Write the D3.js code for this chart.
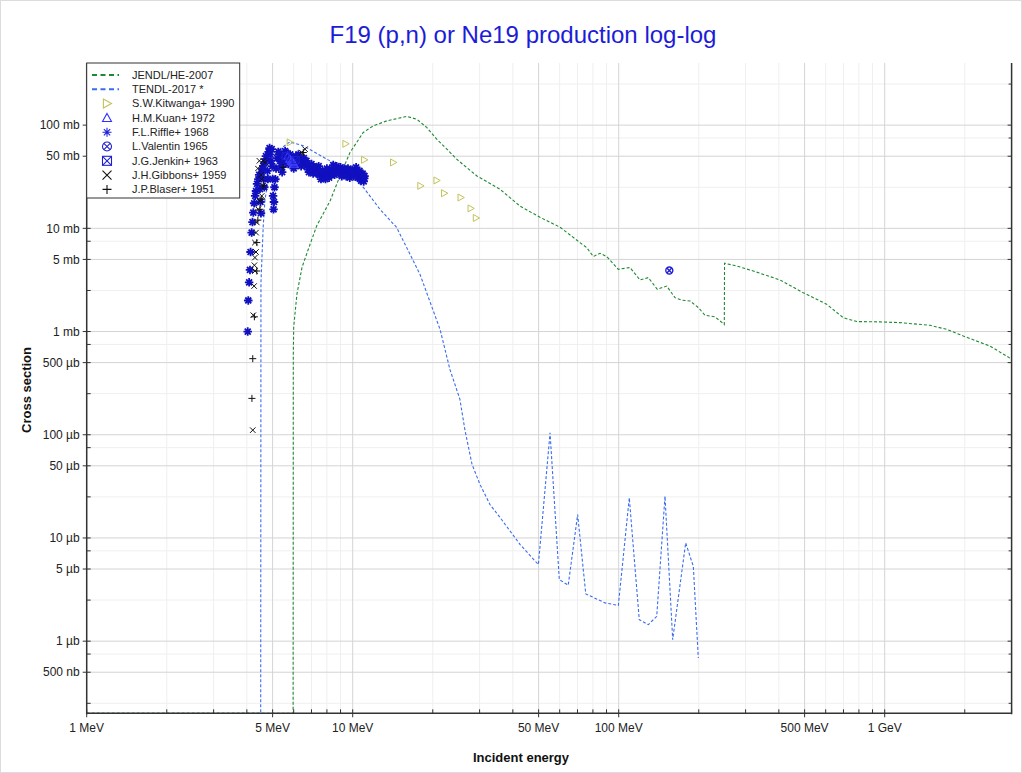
<!DOCTYPE html>
<html><head><meta charset="utf-8">
<script src="https://cdn.jsdelivr.net/npm/d3@7/dist/d3.min.js"></script>
<style>body{margin:0;background:#fff}svg{display:block;font-family:"Liberation Sans",Arial,sans-serif}</style>
</head><body><svg id="c" width="1022" height="773"></svg>
<script>
// ---------------- data (E in MeV, cross section in mb) ----------------
const jendlE = [1, 5.97, 5.98, 6.0, 6.17, 6.45, 6.81, 7.32, 8.22, 8.96, 9.77, 10.96, 11.95, 13.42, 15.96, 17.4, 18.98, 20.7, 22.6, 24.6, 26.8, 29.3, 35.8, 42.6, 50.6, 60.2, 71.5, 75.8, 80.3, 85.1, 90.1, 99.7, 110.3, 120.3, 129.2, 139.7, 151.5, 162.8, 172.5, 185.4, 199.2, 211, 230, 249.5, 250, 277.7, 320.6, 404, 494, 605, 699, 785, 960, 1141, 1480, 1711, 1975, 2488, 3000];
const jendlS = [0, 0, 0.6, 1.1, 2.3, 4.2, 6.27, 10.55, 18.4, 32.2, 54.3, 85, 98.4, 110, 121.4, 114.3, 95, 73.1, 58.5, 46.8, 38.9, 32.2, 23.9, 16.4, 12.8, 10.25, 7.28, 6.51, 5.33, 5.73, 5.33, 4.01, 4.17, 3.16, 3.33, 2.57, 2.76, 2.13, 2.01, 1.98, 1.71, 1.44, 1.39, 1.17, 4.59, 4.32, 3.86, 3.16, 2.38, 1.84, 1.36, 1.25, 1.24, 1.22, 1.15, 1.05, 0.905, 0.724, 0.54];

const tendlE = [1, 4.51, 4.52, 4.61, 4.68, 4.89, 5.3, 5.81, 6.52, 8.22, 9.77, 10.96, 12.66, 14.63, 17.9, 21.3, 23.2, 25.3, 26.4, 28.1, 30.1, 32.8, 35.8, 42.6, 49.9, 55.2, 59.8, 64.6, 70.1, 75.2, 88.8, 99.7, 109.6, 119.5, 129.2, 139, 149.3, 159.6, 178.6, 190.8, 199.2];
const tendlS = [0, 0, 3.0, 10.55, 19.1, 37.4, 58, 68.9, 63, 45, 33.5, 25, 15.3, 10.2, 3.59, 1.05, 0.43, 0.22, 0.1125, 0.0515, 0.033, 0.0211, 0.0158, 0.00863, 0.00552, 0.1046, 0.00395, 0.00348, 0.01687, 0.00287, 0.00235, 0.00222, 0.0245, 0.001616, 0.001445, 0.00174, 0.0254, 0.001034, 0.00896, 0.00531, 0.000687];

const kitwangaE = [5.81, 9.41, 11.06, 14.21, 18.0, 20.7, 22.1, 25.5, 27.8, 29.1];
const kitwangaS = [68.0, 65.9, 46.1, 43.5, 25.8, 29.1, 21.9, 19.9, 15.6, 12.6];

const kuanE = [5.70, 5.80, 5.88, 5.95, 6.02];
const kuanS = [50, 47, 45, 44, 42];

const riffleE = [4.03, 4.05, 4.08, 4.11, 4.13, 4.17, 4.20, 4.23, 4.26, 4.30, 4.33, 4.37, 4.42, 4.45, 4.48, 4.50, 4.52, 4.55, 4.58, 4.61, 4.63, 4.65, 4.68, 4.72, 4.75, 4.78, 4.80, 4.83, 4.87, 4.90, 4.93, 4.96, 4.98, 5.00, 5.02, 5.04, 5.06, 5.08, 5.12, 5.15, 5.20, 5.25, 5.30, 5.33, 5.38, 5.43, 5.48, 5.52, 5.57, 5.62, 5.67, 5.72, 5.77, 5.82, 5.87, 5.93, 5.98, 6.05, 6.12, 6.20, 6.28, 6.34, 6.42, 6.50, 6.58, 6.65, 6.72, 6.80, 6.88, 6.96, 7.05, 7.15, 7.25, 7.32, 7.42, 7.52, 7.62, 7.75, 7.85, 7.95, 8.08, 8.22, 8.35, 8.48, 8.60, 8.75, 8.90, 9.05, 9.20, 9.35, 9.50, 9.65, 9.77, 9.90, 10.05, 10.2, 10.35, 10.5, 10.65, 10.8, 10.96, 11.05,
  6.0, 6.1, 6.25, 6.4, 6.55, 6.7, 6.85, 7.0, 7.1, 7.3, 7.45, 7.6, 7.7, 7.9, 8.0, 8.15, 8.3, 8.45, 8.55, 8.7, 8.85, 9.0, 9.1, 9.3, 9.45, 9.6, 9.75, 9.95, 10.1, 10.3, 10.45, 10.6, 10.75, 10.9, 11.0, 11.08];
const riffleS = [1.0, 2.0, 3.0, 3.95, 5.9, 9.1, 11.5, 14.2, 17.5, 20.6, 23, 27, 29.9, 33, 24, 18, 14, 34.8, 38, 40.3, 30, 25, 44, 50, 46.8, 36, 30, 55, 60, 52, 45, 58.5, 40, 30, 20.6, 15.3, 18, 25, 29.9, 38, 48, 55, 52.3, 45, 40, 35, 43.4, 50, 56, 54.3, 48, 42, 46, 52, 48, 44, 43.4, 46, 50, 47, 43, 45.1, 48, 44, 41, 43, 40.3, 37, 40, 38, 36, 39, 38, 38.9, 35, 33, 34, 32.2, 33, 35, 34, 34.8, 37, 38, 36, 37.5, 37.5, 35, 34, 35.5, 36, 35, 34.8, 33.5, 35, 36, 36, 34, 33, 32, 31.1, 30.5,
  38, 42, 52, 40, 48, 45, 35, 42, 34, 34, 40, 30, 36, 30, 38, 31, 33, 41, 33, 40, 34, 39, 32, 38, 32, 38, 31, 37, 32, 39, 31, 36, 29, 34, 28.5, 32];

const valentinE = [155];
const valentinS = [3.9];

const jenkinE = [5.6, 6.1];
const jenkinS = [50, 46];

const gibbonsE = [4.21, 4.23, 4.26, 4.27, 4.29, 4.29, 4.33, 4.29, 4.33, 4.36, 4.42, 4.48, 4.55, 4.61, 4.55, 4.46, 4.61, 4.68, 6.43, 6.62, 4.40, 4.52];
const gibbonsS = [0.1108, 1.44, 2.76, 4.39, 3.86, 5.21, 5.9, 7.28, 9.1, 11.4, 15.3, 18.4, 20.6, 25.8, 29.9, 45.1, 45.1, 43.4, 54.3, 58.5, 38, 33];

const blaserE = [4.18, 4.21, 4.27, 4.36, 4.36, 4.48, 4.55, 4.61, 5.48, 6.52, 4.40];
const blaserS = [0.225, 0.546, 1.39, 3.86, 7.28, 15.3, 19.2, 25.8, 38.9, 54.3, 12];

const xMajor = [1, 5, 10, 50, 100, 500, 1000];
const xMajorLabels = ["1 MeV", "5 MeV", "10 MeV", "50 MeV", "100 MeV", "500 MeV", "1 GeV"];
const xMinor = [2, 3, 4, 6, 7, 8, 9, 20, 30, 40, 60, 70, 80, 90, 200, 300, 400, 600, 700, 800, 900, 2000, 3000];
const yMajor = [100, 50, 10, 5, 1, 0.5, 0.1, 0.05, 0.01, 0.005, 0.001, 0.0005];
const yMajorLabels = ["100 mb", "50 mb", "10 mb", "5 mb", "1 mb", "500 \u00b5b", "100 \u00b5b", "50 \u00b5b", "10 \u00b5b", "5 \u00b5b", "1 \u00b5b", "500 nb"];
const yMinor = [250, 75, 25, 7.5, 2.5, 0.75, 0.25, 0.075, 0.025, 0.0075, 0.0025, 0.00075, 0.00025];

const titleText = "F19 (p,n) or Ne19 production log-log";
const legendNames = ["JENDL/HE-2007", "TENDL-2017 *", "S.W.Kitwanga+ 1990", "H.M.Kuan+ 1972", "F.L.Riffle+ 1968", "L.Valentin 1965", "J.G.Jenkin+ 1963", "J.H.Gibbons+ 1959", "J.P.Blaser+ 1951"];

// ---------------- drawing ----------------
const svg = d3.select("#c");
const L = 86.7, R = 1011.6, T = 63, B = 713.3;
const yMin = 2e-4, yMax = 400;
const x = d3.scaleLog().domain([1, 3000]).range([L, R]);
const y = d3.scaleLog().domain([yMin, yMax]).range([B, T]);
const yc = v => y(Math.max(v, yMin));

svg.append("rect").attr("x", 0.5).attr("y", 0.5).attr("width", 1021).attr("height", 772).attr("fill", "#fff").attr("stroke", "#dcdcdc");

const grid = svg.append("g");
xMinor.forEach(v => grid.append("line").attr("x1", x(v)).attr("x2", x(v)).attr("y1", T).attr("y2", B).attr("stroke", "#efefef"));
yMinor.filter(v => v < yMax).forEach(v => grid.append("line").attr("x1", L).attr("x2", R).attr("y1", y(v)).attr("y2", y(v)).attr("stroke", "#efefef"));
xMajor.forEach(v => grid.append("line").attr("x1", x(v)).attr("x2", x(v)).attr("y1", T).attr("y2", B).attr("stroke", "#d4d4d4"));
yMajor.forEach(v => grid.append("line").attr("x1", L).attr("x2", R).attr("y1", y(v)).attr("y2", y(v)).attr("stroke", "#d4d4d4"));

// clip
svg.append("clipPath").attr("id", "clip").append("rect").attr("x", L).attr("y", T - 2).attr("width", R - L).attr("height", B - T + 3);
const plot = svg.append("g").attr("clip-path", "url(#clip)");

const line = d3.line().x(d => x(d[0])).y(d => yc(d[1]));
plot.append("path").attr("d", line(tendlE.map((e, i) => [e, tendlS[i]]))).attr("fill", "none").attr("stroke", "#3b6cf0").attr("stroke-width", 1.1).attr("stroke-dasharray", "3,2");
plot.append("path").attr("d", line(jendlE.map((e, i) => [e, jendlS[i]]))).attr("fill", "none").attr("stroke", "#1e8a30").attr("stroke-width", 1.1).attr("stroke-dasharray", "3,2");

// symbols
function sym(g, type, color, s, sw) {
  const h = s / 2;
  if (type === "rtri") g.append("path").attr("d", `M${-h*0.8},${-h}L${h},0L${-h*0.8},${h}Z`).attr("fill", "none").attr("stroke", color).attr("stroke-width", sw);
  else if (type === "utri") g.append("path").attr("d", `M0,${-h}L${h},${h*0.8}L${-h},${h*0.8}Z`).attr("fill", "none").attr("stroke", color).attr("stroke-width", sw);
  else if (type === "ast") g.append("path").attr("d", `M${-h},0L${h},0M0,${-h}L0,${h}M${-h*0.7},${-h*0.7}L${h*0.7},${h*0.7}M${-h*0.7},${h*0.7}L${h*0.7},${-h*0.7}`).attr("stroke", color).attr("stroke-width", sw);
  else if (type === "cx") { g.append("circle").attr("r", h).attr("fill", "none").attr("stroke", color).attr("stroke-width", sw); g.append("path").attr("d", `M${-h*0.7},${-h*0.7}L${h*0.7},${h*0.7}M${-h*0.7},${h*0.7}L${h*0.7},${-h*0.7}`).attr("stroke", color).attr("stroke-width", sw); }
  else if (type === "sx") { g.append("rect").attr("x", -h).attr("y", -h).attr("width", s).attr("height", s).attr("fill", "none").attr("stroke", color).attr("stroke-width", sw); g.append("path").attr("d", `M${-h},${-h}L${h},${h}M${-h},${h}L${h},${-h}`).attr("stroke", color).attr("stroke-width", sw); }
  else if (type === "x") g.append("path").attr("d", `M${-h},${-h}L${h},${h}M${-h},${h}L${h},${-h}`).attr("stroke", color).attr("stroke-width", sw);
  else if (type === "plus") g.append("path").attr("d", `M${-h},0L${h},0M0,${-h}L0,${h}`).attr("stroke", color).attr("stroke-width", sw);
}
function series(E, S, type, color, s, sw) {
  E.forEach((e, i) => { const g = plot.append("g").attr("transform", `translate(${x(e)},${yc(S[i])})`); sym(g, type, color, s, sw); });
}
series(kitwangaE, kitwangaS, "rtri", "#c2c25a", 7, 1);
series(riffleE, riffleS, "ast", "#1010c0", 8.5, 1.8);
series(kuanE, kuanS, "utri", "#4040ff", 8, 1.2);
series(jenkinE, jenkinS, "sx", "#2020d0", 7, 1);
series(valentinE, valentinS, "cx", "#2020d0", 7, 1.4);
series(gibbonsE, gibbonsS, "x", "#111", 5.5, 1);
series(blaserE, blaserS, "plus", "#111", 7, 1);

// axes frame
const ax = svg.append("g").attr("stroke", "#333");
ax.append("line").attr("x1", L).attr("x2", L).attr("y1", T).attr("y2", B + 1).attr("stroke-width", 1.5);
ax.append("line").attr("x1", R).attr("x2", R).attr("y1", T).attr("y2", B + 1).attr("stroke-width", 1.5);
ax.append("line").attr("x1", L).attr("x2", R).attr("y1", B).attr("y2", B).attr("stroke-width", 1.5);
xMajor.forEach(v => ax.append("line").attr("x1", x(v)).attr("x2", x(v)).attr("y1", B - 4).attr("y2", B + 4));
xMinor.forEach(v => ax.append("line").attr("x1", x(v)).attr("x2", x(v)).attr("y1", B - 4).attr("y2", B));
yMajor.forEach(v => { ax.append("line").attr("x1", L - 4).attr("x2", L + 4).attr("y1", y(v)).attr("y2", y(v)); ax.append("line").attr("x1", R - 4).attr("x2", R).attr("y1", y(v)).attr("y2", y(v)); });
yMinor.filter(v => v < yMax).forEach(v => { ax.append("line").attr("x1", L).attr("x2", L + 4).attr("y1", y(v)).attr("y2", y(v)); ax.append("line").attr("x1", R - 3).attr("x2", R).attr("y1", y(v)).attr("y2", y(v)); });

const lab = svg.append("g").attr("fill", "#222").attr("font-size", 12);
xMajor.forEach((v, i) => lab.append("text").attr("x", x(v)).attr("y", B + 19).attr("text-anchor", "middle").text(xMajorLabels[i]));
yMajor.forEach((v, i) => lab.append("text").attr("x", L - 7).attr("y", y(v)).attr("dy", "0.35em").attr("text-anchor", "end").text(yMajorLabels[i]));

svg.append("text").attr("x", 523).attr("y", 43).attr("text-anchor", "middle").attr("font-size", 24).attr("fill", "#1c1cd8").text(titleText);
svg.append("text").attr("x", 521).attr("y", 762).attr("text-anchor", "middle").attr("font-size", 13).attr("font-weight", "bold").attr("fill", "#111").text("Incident energy");
svg.append("text").attr("transform", "translate(31,390) rotate(-90)").attr("text-anchor", "middle").attr("font-size", 13).attr("font-weight", "bold").attr("fill", "#111").text("Cross section");

// legend
const lg = svg.append("g");
lg.append("rect").attr("x", L).attr("y", T).attr("width", 153).attr("height", 135).attr("fill", "#fff").attr("stroke", "#333").attr("stroke-width", 1);
const legendStyle = [
  {t: "line", c: "#1e8a30"}, {t: "line", c: "#3b6cf0"},
  {t: "rtri", c: "#c2c25a"}, {t: "utri", c: "#3030ff"}, {t: "ast", c: "#2020e0"},
  {t: "cx", c: "#2020d0"}, {t: "sx", c: "#2020d0"}, {t: "x", c: "#111"}, {t: "plus", c: "#111"}
];
legendNames.forEach((n, i) => {
  const cy = 75 + i * 14.3;
  if (legendStyle[i].t === "line") {
    lg.append("line").attr("x1", 92).attr("x2", 119).attr("y1", cy).attr("y2", cy).attr("stroke", legendStyle[i].c).attr("stroke-width", 2).attr("stroke-dasharray", "5,3.5");
  } else {
    const g = lg.append("g").attr("transform", `translate(107,${cy})`);
    sym(g, legendStyle[i].t, legendStyle[i].c, 9, 1.1);
  }
  lg.append("text").attr("x", 132).attr("y", cy).attr("dy", "0.35em").attr("font-size", 11).attr("fill", "#222").text(n);
});
</script></body></html>
